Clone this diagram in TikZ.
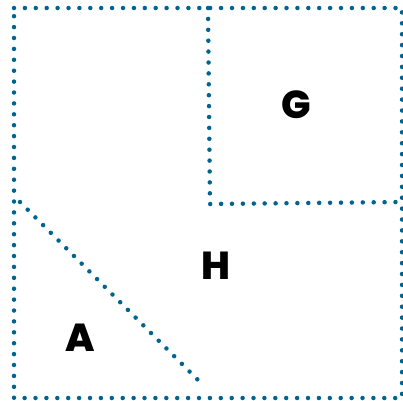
\documentclass[tikz,border=0pt]{standalone}
\usepackage{fontspec}
\setmainfont{Poppins}[BoldFont=* ExtraBold]
\definecolor{dotblue}{RGB}{0,100,145}

\begin{document}
\begin{tikzpicture}[
    x=1pt, y=-1pt,
    dotline/.style={draw=dotblue, line width=4.5pt, line cap=round, dash pattern=on 0pt off 10.9pt},
    region/.style={font=\bfseries\fontsize{39}{41}\selectfont, inner sep=0pt}
  ]
  \useasboundingbox (0,0) rectangle (403,400);

% --- corners of the square and of the pieces ---
  \coordinate (nw) at (14,8);
  \coordinate (ne) at (402,8);
  \coordinate (se) at (402,398);
  \coordinate (sw) at (14,398);
  \coordinate (gtop) at (208,8);
  \coordinate (gcorner) at (210,204);
  \coordinate (gright) at (402,202);
  \coordinate (cutl) at (20,202);
  \coordinate (cutb) at (204,386);

% --- outer square ---
  \draw[dotline] (nw) -- (ne) -- (se) -- (sw) -- cycle;

% --- square G ---
  \draw[dotline] (gtop) -- (gcorner) -- (gright);

% --- triangle A cut off ---
  \draw[dotline] (cutl) -- (cutb);

% --- labels ---
  \node[region] (G) at (296,105) {G};
  \node[region] (H) at (216,266) {H};
  \node[region] (A) at (80,338) {A};
\end{tikzpicture}
\end{document}
